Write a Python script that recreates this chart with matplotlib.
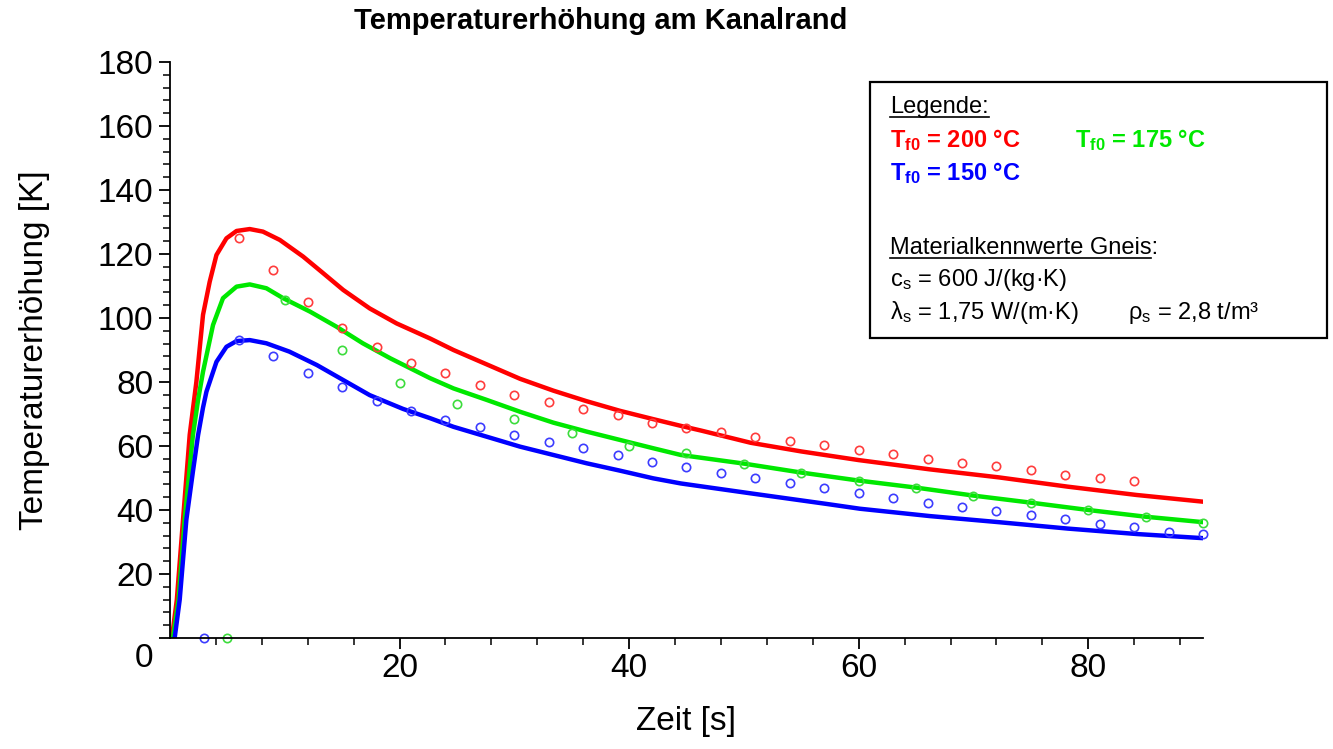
import matplotlib
matplotlib.use("Agg")
import matplotlib.pyplot as plt
from matplotlib.lines import Line2D
from matplotlib.patches import Rectangle
from matplotlib.transforms import ScaledTranslation

plt.rcParams['font.family'] = ['Liberation Sans', 'DejaVu Sans']
plt.rcParams['mathtext.fontset'] = 'custom'
plt.rcParams['mathtext.rm'] = 'Liberation Sans'
plt.rcParams['mathtext.bf'] = 'Liberation Sans:bold'
plt.rcParams['mathtext.it'] = 'Liberation Sans:italic'

# berechnete Kurven
red_t = [0.17, 0.6, 1.14, 1.72, 2.3, 2.88, 3.46, 4.05, 4.92, 5.8, 6.95, 8.1, 9.57, 11.6,
         13.35, 15.1, 17.4, 19.75, 22.66, 24.7, 27.6, 30.5, 33.4, 36.3, 39.2, 42.1, 44.5,
         46.3, 50.6, 55.0, 60.0, 66.2, 72.2, 78.2, 84.2, 90.0]
red_T = [0, 12, 37, 63.5, 80, 101, 111.3, 119.7, 124.9, 127.2, 127.8, 127, 124.4, 119.2,
         114, 108.75, 103, 98.3, 93.6, 90, 85.5, 81, 77.3, 74, 71, 68.4, 66.3,
         64.8, 61, 58.3, 55.6, 52.7, 50.2, 47.3, 44.7, 42.6]

green_t = [0.26, 0.75, 1.28, 2.0, 2.45, 2.88, 3.75, 4.62, 5.8, 6.95, 8.4, 9.86, 12.2, 14.5,
           16.8, 19.2, 22.66, 24.7, 27.6, 30.5, 33.4, 36.3, 39.2, 42.1, 44.5, 50.0, 55.0,
           60.0, 65.0, 70.0, 75.0, 80.0, 85.0, 90.0]
green_T = [0, 12, 37, 63.4, 74.4, 83.2, 97.8, 106.2, 109.8, 110.5, 109.3, 106.2, 102, 97.3,
           92.1, 87.4, 81.2, 78, 74.4, 70.7, 67.3, 64.5, 61.9, 59.3, 57.2, 54.5, 51.7,
           49.2, 47, 44.5, 42.3, 40, 37.9, 36.2]

blue_t = [0.41, 0.85, 1.43, 2.0, 2.45, 2.88, 3.18, 4.05, 4.92, 5.8, 6.95, 8.4, 10.4, 12.8,
          15.1, 17.4, 20.3, 22.66, 24.7, 27.6, 30.5, 33.4, 36.3, 39.2, 42.1, 44.5, 50.6,
          55.0, 57.2, 60.1, 66.2, 72.2, 78.2, 84.2, 90.0]
blue_T = [0, 12, 37, 52, 63.4, 72, 77, 86.3, 91, 92.8, 93.1, 92.1, 89.5, 85.3,
          80.6, 75.9, 71.6, 68.7, 66, 62.9, 59.8, 57.2, 54.6, 52.3, 49.9, 48.3, 45.2,
          43, 41.9, 40.4, 38.1, 36.2, 34.2, 32.5, 31.2]

# Messpunkte
red_px = [6, 9, 12, 15, 18, 21, 24, 27, 30, 33, 36, 39, 42, 45, 48, 51, 54, 57, 60, 63,
          66, 69, 72, 75, 78, 81, 84]
red_py = [125, 115, 105, 97, 91, 86, 82.8, 79, 76, 73.8, 71.6, 69.7, 67.2, 65.6, 64.4, 62.8,
          61.6, 60.3, 58.75, 57.5, 55.9, 54.7, 53.75, 52.5, 50.9, 50.1, 49.2]

green_px = [5, 10, 15, 20, 25, 30, 35, 40, 45, 50, 55, 60, 65, 70, 75, 80, 85, 90]
green_py = [0, 105.6, 90, 79.8, 73.2, 68.3, 64, 60.1, 57.7, 54.5, 51.7, 49.2, 47, 44.5,
            42.3, 40, 37.9, 36]

blue_px = [3, 6, 9, 12, 15, 18, 21, 24, 27, 30, 33, 36, 39, 42, 45, 48, 51, 54, 57, 60,
           63, 66, 69, 72, 75, 78, 81, 84, 87, 90]
blue_py = [0, 93.1, 88.2, 82.7, 78.3, 74.2, 71, 68.2, 65.9, 63.5, 61.25, 59.4, 57.1, 55.1,
           53.3, 51.6, 50.1, 48.3, 46.8, 45.4, 43.7, 42.1, 40.8, 39.8, 38.4, 37.1, 35.6,
           34.7, 33.2, 32.5]

RED = '#ff0000'
GREEN = '#00e800'
BLUE = '#0000ff'

fig = plt.figure(figsize=(13.33, 7.49), dpi=100)
ax = fig.add_axes([0.1275, 0.1482, 0.775, 0.769])

ax.plot(red_t, red_T, color=RED, lw=3.2, solid_joinstyle='round')
ax.plot(green_t, green_T, color=GREEN, lw=3.2, solid_joinstyle='round')
ax.plot(blue_t, blue_T, color=BLUE, lw=3.2, solid_joinstyle='round')

mk = dict(ls='none', marker='o', ms=6, mfc='none', mew=1.2, clip_on=False)
ax.plot(red_px, red_py, mec='#ff3c3c', **mk)
ax.plot(green_px, green_py, mec='#3cdc3c', **mk)
ax.plot(blue_px, blue_py, mec='#3c3cff', **mk)

ax.set_xlim(0, 90)
ax.set_ylim(0, 180)
ax.spines['top'].set_visible(False)
ax.spines['right'].set_visible(False)
ax.spines['left'].set_linewidth(1.3)
ax.spines['bottom'].set_linewidth(1.3)

ax.set_xticks([20, 40, 60, 80])
ax.set_xticks([v for v in range(4, 90, 4) if v % 20], minor=True)
ax.set_yticks(range(0, 181, 20))
ax.set_yticks([v for v in range(4, 180, 4) if v % 20], minor=True)
ax.tick_params(which='major', length=8, width=1.3, labelsize=24)
ax.tick_params(axis='x', which='major', pad=3)
ax.tick_params(axis='y', which='major', pad=4)
ax.tick_params(which='minor', length=5, width=1.1)

# "0" an der y-Achse etwas tiefer wie im Original
lab0 = ax.yaxis.get_major_ticks()[0].label1
lab0.set_transform(lab0.get_transform() + ScaledTranslation(0, -0.17, fig.dpi_scale_trans))

ax.set_xlabel('Zeit [s]', fontsize=24, labelpad=16)
ax.set_ylabel('Temperaturerhöhung [K]', fontsize=24, labelpad=34)

fig.text(0.451, 0.972, 'Temperaturerhöhung am Kanalrand', fontsize=21, fontweight='bold',
         ha='center', va='center')

# Legendenkasten
fig.add_artist(Rectangle((0.6527, 0.5487), 0.3428, 0.3418, transform=fig.transFigure,
                         fill=False, ec='black', lw=1.6))

x0 = 890 / 1333
def ypos(py):
    return 1 - py / 749

t_leg = fig.text(x0, ypos(107), 'Legende:', fontsize=17, va='center')
fig.text(x0, ypos(140), r'$\mathbf{T_{f0}}$ = 200 °C', fontsize=17, fontweight='bold',
         color=RED, va='center')
fig.text(1075 / 1333, ypos(140), r'$\mathbf{T_{f0}}$ = 175 °C', fontsize=17,
         fontweight='bold', color=GREEN, va='center')
fig.text(x0, ypos(173), r'$\mathbf{T_{f0}}$ = 150 °C', fontsize=17, fontweight='bold',
         color=BLUE, va='center')
t_mat = fig.text(x0, ypos(248), 'Materialkennwerte Gneis:', fontsize=17, va='center')
fig.text(x0, ypos(280), r'$\mathrm{c_s}$ = 600 J/(kg·K)', fontsize=17, va='center')
fig.text(x0, ypos(313), r'$\mathrm{λ_s}$ = 1,75 W/(m·K)', fontsize=17, va='center')
fig.text(1128 / 1333, ypos(313), r'$\mathrm{ρ_s}$ = 2,8 t/m³', fontsize=17, va='center')

# Unterstreichungen
fig.canvas.draw()
r = fig.canvas.get_renderer()
for t in (t_leg, t_mat):
    bb = t.get_window_extent(r).transformed(fig.transFigure.inverted())
    yl = bb.y0 + 0.002
    fig.add_artist(Line2D([bb.x0, bb.x1 - (0.005 if t is t_mat else 0)], [yl, yl],
                          transform=fig.transFigure, color='black', lw=1.2))

fig.savefig('out.png', dpi=100)
